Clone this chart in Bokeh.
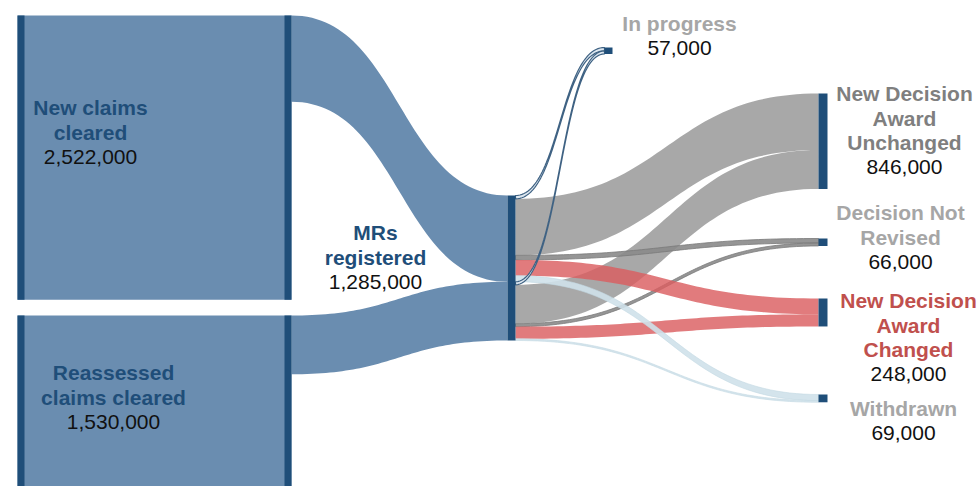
import numpy as np
from bokeh.plotting import figure
from bokeh.models import Range1d
from bokeh.embed import file_html
from bokeh.resources import INLINE
from bokeh.core.properties import value

# ---------------- data ----------------
node_names = ["New claims cleared", "Reassessed claims cleared", "MRs registered",
              "In progress", "New Decision Award Unchanged", "Decision Not Revised",
              "New Decision Award Changed", "Withdrawn"]
node_totals = [2522000, 1530000, 1285000, 57000, 846000, 66000, 248000, 69000]

# claims cleared -> MRs registered
in_source = [0, 1]
in_value = [765000, 521000]

# MRs registered -> outcome, split by where the MR came from
out_origin = [0, 0, 0, 0, 0, 1, 1, 1, 1, 1]
out_target = [3, 4, 5, 6, 7, 3, 4, 5, 6, 7]
out_value = [30000, 501000, 40000, 140000, 54000,
             27000, 345000, 26000, 108000, 15000]

label_lines = [["New claims", "cleared"], ["Reassessed", "claims cleared"], ["MRs", "registered"],
               ["In progress"], ["New Decision", "Award", "Unchanged"], ["Decision Not", "Revised"],
               ["New Decision", "Award", "Changed"], ["Withdrawn"]]
label_numbers = ["2,522,000", "1,530,000", "1,285,000", "57,000", "846,000", "66,000",
                 "248,000", "69,000"]

# ---------------- layout / style ----------------
K = 145.0 / 1286000.0          # pixels per claim
node_x0 = [17, 17, 507, 604, 818, 818, 818, 818]
node_x1 = [291, 291, 515, 612, 827, 827, 827, 827]
node_top = [15, 315, 195, 47, 93, 238, 298, 394]
label_cx = [90, 113, 375, 679, 904, 900, 908, 903]
label_y0 = [107, 372, 232, 23, 93, 212, 300, 408]
label_color = ["#1f4e79", "#1f4e79", "#1f4e79", "#a6a6a6", "#7f7f7f", "#a6a6a6",
               "#c0504d", "#a6a6a6"]
LINE_H = 24.5

BLUE = "#6a8db0"
DARK = "#1f4e79"
flow_style = {
    3: dict(fill_color="#dde7f0", fill_alpha=1.0, line_color="#3f6283", line_width=1.2),
    4: dict(fill_color="#a5a5a5", fill_alpha=0.97, line_color=None),
    5: dict(fill_color="#8a8a8a", fill_alpha=0.9, line_color="#7a7a7a", line_width=0.8),
    6: dict(fill_color="#db5e60", fill_alpha=0.82, line_color=None),
    7: dict(fill_color="#cfe1ea", fill_alpha=0.9, line_color="#c3d8e2", line_width=0.6),
}
draw_order = [4, 5, 6, 7, 3]


def ribbon(x0, y0a, y0b, x1, y1a, y1b, n=60):
    t = np.linspace(0, 1, n)
    xm = (x0 + x1) / 2.0
    bx = (1 - t) ** 3 * x0 + 3 * (1 - t) ** 2 * t * xm + 3 * (1 - t) * t ** 2 * xm + t ** 3 * x1

    def by(a, b):
        return (1 - t) ** 3 * a + 3 * (1 - t) ** 2 * t * a + 3 * (1 - t) * t ** 2 * b + t ** 3 * b
    top = by(y0a, y1a)
    bot = by(y0b, y1b)
    return list(bx) + list(bx[::-1]), list(top) + list(bot[::-1])


p = figure(width=978, height=486, x_range=Range1d(0, 978), y_range=Range1d(486, 0),
           output_backend="svg", toolbar_location=None, min_border=0)
p.axis.visible = False
p.grid.visible = False
p.outline_line_color = None
p.background_fill_color = "white"

# ---- flows into MRs registered ----
mr_cursor = node_top[2]
for s, v in zip(in_source, in_value):
    h = v * K
    y0a = node_top[s]
    xs, ys = ribbon(node_x1[s], y0a, y0a + h, node_x0[2], mr_cursor, mr_cursor + h)
    p.patch(xs, ys, fill_color=BLUE, line_color=None)
    mr_cursor += h

# ---- flows out of MRs registered ----
src_cursor = node_top[2]
tgt_cursor = {i: node_top[i] for i in range(3, 8)}
ribbons = []
for o, tg, v in zip(out_origin, out_target, out_value):
    h = v * K
    xs, ys = ribbon(node_x1[2], src_cursor, src_cursor + h, node_x0[tg],
                    tgt_cursor[tg], tgt_cursor[tg] + h)
    ribbons.append((tg, xs, ys))
    src_cursor += h
    tgt_cursor[tg] += h

for tg in draw_order:
    xs_l = [r[1] for r in ribbons if r[0] == tg]
    ys_l = [r[2] for r in ribbons if r[0] == tg]
    p.patches(xs_l, ys_l, **flow_style[tg])

# ---- nodes ----
mr_total = sum(in_value)
for i in range(8):
    tot = mr_total if i == 2 else node_totals[i]
    top = node_top[i]
    bot = top + tot * K
    if i < 2:
        p.quad(left=node_x0[i], right=node_x1[i], top=top, bottom=bot,
               fill_color=BLUE, line_color=None)
        p.quad(left=node_x0[i], right=node_x0[i] + 7, top=top, bottom=bot,
               fill_color=DARK, line_color=None)
        p.quad(left=node_x1[i] - 7, right=node_x1[i], top=top, bottom=bot,
               fill_color=DARK, line_color=None)
    else:
        p.quad(left=node_x0[i], right=node_x1[i], top=top, bottom=bot,
               fill_color=DARK, line_color=None)

# ---- labels ----
for i in range(8):
    lines = label_lines[i]
    ys = [label_y0[i] + j * LINE_H for j in range(len(lines))]
    p.text(x=[label_cx[i]] * len(lines), y=ys, text=lines,
           text_align="center", text_baseline="alphabetic",
           text_font=value("Liberation Sans"), text_font_style="bold",
           text_font_size="21px", text_color=label_color[i])
    p.text(x=[label_cx[i]], y=[label_y0[i] + len(lines) * LINE_H], text=[label_numbers[i]],
           text_align="center", text_baseline="alphabetic",
           text_font=value("Liberation Sans"), text_font_size="21px", text_color="#111111")

open("out.html", "w").write(file_html(p, INLINE))
